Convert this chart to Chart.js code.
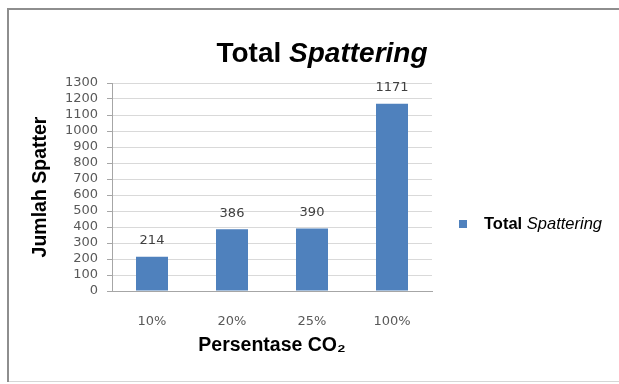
<!DOCTYPE html>
<html>
<head>
<meta charset="utf-8">
<title>Total Spattering</title>
<script src="https://cdn.jsdelivr.net/npm/chart.js@4/dist/chart.umd.min.js"></script>
<style>
  html, body { margin: 0; padding: 0; background: #ffffff; }
  #wrap { width: 619px; height: 384px; position: relative; }
  canvas { display: block; }
</style>
</head>
<body>
<div id="wrap"><canvas id="chart" width="619" height="384"></canvas></div>
<script>
// CO2 share in the shielding gas and the spatter counted for each
const categories = ['10%', '20%', '25%', '100%'];
const spatterTotals = [214, 386, 390, 1171];
const yMin = 0;
const yMax = 1300;
const yStep = 100;

const BAR_BLUE = '#4F81BD';
const SANS = '"Liberation Sans", Arial, sans-serif';
const NUM = '"DejaVu Sans", sans-serif';

// Outer frame of the chart object
const framePlugin = {
  id: 'frame',
  beforeDraw(chart) {
    const ctx = chart.ctx;
    ctx.save();
    ctx.fillStyle = '#ffffff';
    ctx.fillRect(0, 0, chart.width, chart.height);
    ctx.strokeStyle = '#d6d6d6';
    ctx.lineWidth = 1;
    ctx.beginPath();
    ctx.moveTo(7, 381.5);
    ctx.lineTo(chart.width, 381.5);
    ctx.stroke();
    ctx.strokeStyle = '#8e8e8e';
    ctx.lineWidth = 2;
    ctx.beginPath();
    ctx.moveTo(8, 382);
    ctx.lineTo(8, 9);
    ctx.lineTo(chart.width, 9);
    ctx.stroke();
    ctx.restore();
  }
};

// Draws a run of text pieces with their own fonts, centred or left-aligned
function drawRuns(ctx, runs, x, y, align) {
  let total = 0;
  runs.forEach(r => { ctx.font = r.font; total += ctx.measureText(r.text).width; });
  let cx = align === 'center' ? x - total / 2 : x;
  ctx.textAlign = 'left';
  runs.forEach(r => {
    ctx.font = r.font;
    ctx.fillText(r.text, cx, y);
    cx += ctx.measureText(r.text).width;
  });
}

// Title and legend, where "Spattering" is set in italics
const textPlugin = {
  id: 'mixedText',
  afterDraw(chart) {
    const ctx = chart.ctx;
    ctx.save();
    ctx.fillStyle = '#000000';
    ctx.textBaseline = 'alphabetic';
    drawRuns(ctx, [
      { text: 'Total ', font: 'bold 28px ' + SANS },
      { text: 'Spattering', font: 'italic bold 28px ' + SANS }
    ], 322, 62, 'center');

    ctx.fillStyle = BAR_BLUE;
    ctx.fillRect(459, 220, 8, 8);
    ctx.fillStyle = '#000000';
    drawRuns(ctx, [
      { text: 'Total ', font: 'bold 16.5px ' + SANS },
      { text: 'Spattering', font: 'italic 16.5px ' + SANS }
    ], 484, 229, 'left');
    ctx.restore();
  }
};

// Value labels above each bar
const valueLabelPlugin = {
  id: 'valueLabels',
  afterDatasetsDraw(chart) {
    const ctx = chart.ctx;
    const meta = chart.getDatasetMeta(0);
    ctx.save();
    ctx.font = '13px ' + NUM;
    ctx.fillStyle = '#404040';
    ctx.textAlign = 'center';
    ctx.textBaseline = 'middle';
    meta.data.forEach((bar, i) => {
      ctx.fillText(String(spatterTotals[i]), bar.x, bar.y - 16);
    });
    ctx.restore();
  }
};

new Chart(document.getElementById('chart'), {
  type: 'bar',
  data: {
    labels: categories,
    datasets: [{
      label: 'Total Spattering',
      data: spatterTotals,
      backgroundColor: BAR_BLUE,
      borderWidth: 0,
      categoryPercentage: 1.0,
      barPercentage: 0.4
    }]
  },
  options: {
    responsive: false,
    devicePixelRatio: 1,
    animation: false,
    layout: { padding: { left: 0, top: 83, right: 187, bottom: 0 } },
    plugins: {
      legend: { display: false },
      title: { display: false },
      tooltip: { enabled: false }
    },
    scales: {
      x: {
        grid: { display: false },
        border: { display: true, color: '#a6a6a6', width: 1 },
        ticks: {
          color: '#595959',
          font: { family: NUM, size: 13 },
          padding: 15,
          maxRotation: 0
        },
        title: {
          display: true,
          text: 'Persentase CO₂',
          color: '#000000',
          font: { family: SANS, size: 19.5, weight: 'bold' },
          padding: { top: 0, bottom: 27 }
        },
        afterFit(scale) { scale.height = 93; }
      },
      y: {
        min: yMin,
        max: yMax,
        ticks: {
          stepSize: yStep,
          autoSkip: false,
          color: '#595959',
          font: { family: NUM, size: 13 },
          padding: 9,
          callback: (v) => String(v)
        },
        grid: {
          color: '#d9d9d9',
          tickColor: '#a6a6a6',
          tickLength: 5,
          drawTicks: true
        },
        border: { display: true, color: '#a6a6a6', width: 1 },
        title: {
          display: true,
          text: 'Jumlah Spatter',
          color: '#000000',
          font: { family: SANS, size: 19.5, weight: 'bold' },
          padding: { top: 29, bottom: 0 }
        },
        afterFit(scale) { scale.width = 112; }
      }
    }
  },
  plugins: [framePlugin, valueLabelPlugin, textPlugin]
});
</script>
</body>
</html>
